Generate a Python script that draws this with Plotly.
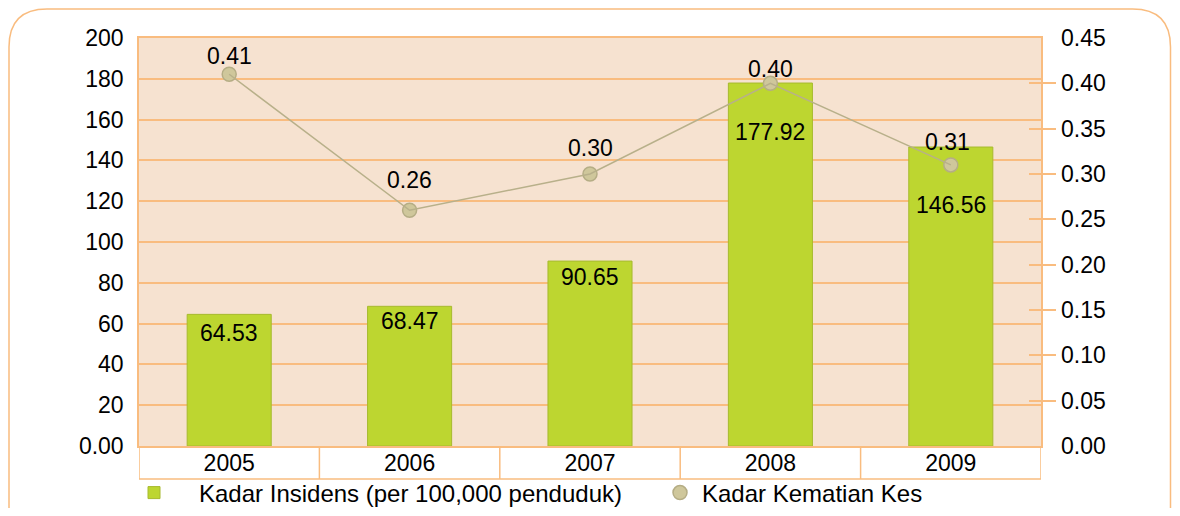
import plotly.graph_objects as go

years = ["2005", "2006", "2007", "2008", "2009"]
incidence = [64.53, 68.47, 90.65, 177.92, 146.56]
death_rate = [0.41, 0.26, 0.30, 0.40, 0.31]
left_ticks = [0, 20, 40, 60, 80, 100, 120, 140, 160, 180, 200]
left_ticktext = ["0.00", "20", "40", "60", "80", "100", "120", "140", "160", "180", "200"]
right_ticks = [0, 0.05, 0.10, 0.15, 0.20, 0.25, 0.30, 0.35, 0.40, 0.45]
right_marks = [0.05, 0.10, 0.15, 0.20, 0.25, 0.30, 0.35, 0.40]
bar_label_drop = [19, 15, 16, 49, 58]   # label centre below bar top, px
line_label_lift = [18, 30, 26, 14, 23]  # label centre above point, px
line_label_xshift = [0, 0, 0, 0, -3]

OFF = 8  # page body margin of the html output
W, H = 1180 - 2 * OFF, 516 - 2 * OFF
L, T = 139 - OFF, 38 - OFF
PW, PH = 902, 408
R, B = W - L - PW, H - T - PH

ORANGE = "#F9BC7F"
PEACH = "#F6E2D0"
FONT = "Arial, Liberation Sans, sans-serif"
FS = 23

def px(x):
    return (x - 139) / PW

def py(y):
    return (446 - y) / PH

fig = go.Figure()
fig.add_trace(go.Bar(
    x=years, y=incidence, name="Kadar Insidens (per 100,000 penduduk)",
    marker=dict(color="#BDD630", line=dict(color="#A7BA2E", width=1)),
    yaxis="y", legend="legend",
))
fig.add_trace(go.Scatter(
    x=years, y=death_rate, name="Kadar Kematian Kes", mode="markers",
    marker=dict(size=14, color="#CFC79B", line=dict(color="#B5AD85", width=1.5)),
    yaxis="y2", legend="legend2",
))
fig.add_trace(go.Scatter(
    x=years, y=death_rate, name="Kadar Kematian Kes", mode="lines",
    line=dict(color="#B8B08A", width=1.5), showlegend=False, yaxis="y3",
))

annotations = []
for i, (v, d) in enumerate(zip(incidence, bar_label_drop)):
    annotations.append(dict(x=i, y=v, xref="x", yref="y", text=f"{v:.2f}",
                            showarrow=False, yanchor="middle", yshift=-d,
                            font=dict(size=FS, color="black", family=FONT)))
for i, (v, d, dx) in enumerate(zip(death_rate, line_label_lift, line_label_xshift)):
    annotations.append(dict(x=i, y=v, xref="x", yref="y2", text=f"{v:.2f}",
                            showarrow=False, yanchor="middle", yshift=d, xshift=dx,
                            font=dict(size=FS, color="black", family=FONT)))

shapes = []
band = -33 / PH
for i in range(len(years) + 1):
    shapes.append(dict(type="line", xref="x", yref="paper", x0=i - 0.5, x1=i - 0.5,
                       y0=0, y1=band, line=dict(color=ORANGE, width=1.5)))
shapes.append(dict(type="line", xref="paper", yref="paper", x0=0, x1=1, y0=band, y1=band,
                   line=dict(color=ORANGE, width=1.5)))

# rounded outer frame
x0, x1, y0, y1, r = 9, 1170.5, 9, 545, 38
path = (f"M {px(x0 + r)},{py(y0)} L {px(x1 - r)},{py(y0)} "
        f"Q {px(x1)},{py(y0)} {px(x1)},{py(y0 + r)} "
        f"L {px(x1)},{py(y1 - r)} Q {px(x1)},{py(y1)} {px(x1 - r)},{py(y1)} "
        f"L {px(x0 + r)},{py(y1)} Q {px(x0)},{py(y1)} {px(x0)},{py(y1 - r)} "
        f"L {px(x0)},{py(y0 + r)} Q {px(x0)},{py(y0)} {px(x0 + r)},{py(y0)} Z")
shapes.append(dict(type="path", xref="paper", yref="paper", path=path,
                   line=dict(color=ORANGE, width=1.5), layer="below"))

fig.update_layout(
    width=W, height=H,
    margin=dict(l=L, r=R, t=T, b=B, pad=0, autoexpand=False),
    paper_bgcolor="white", plot_bgcolor=PEACH,
    font=dict(family=FONT, size=FS, color="black"),
    bargap=0.534,
    showlegend=True,
    legend=dict(orientation="h", x=px(109), xanchor="left", y=py(493), yanchor="middle",
                font=dict(size=24, family=FONT), bgcolor="rgba(0,0,0,0)", itemwidth=80),
    legend2=dict(orientation="h", x=px(658), xanchor="left", y=py(493), yanchor="middle",
                 font=dict(size=24, family=FONT), bgcolor="rgba(0,0,0,0)", itemwidth=34),
    xaxis=dict(type="category", range=[-0.5, 4.5], showgrid=False, ticks="",
               showline=True, mirror=True, linecolor=ORANGE, linewidth=1.5,
               tickfont=dict(size=FS), ticklabelstandoff=-4, automargin=False),
    yaxis=dict(range=[0, 200], tickvals=left_ticks, ticktext=left_ticktext,
               showgrid=True, gridcolor=ORANGE, gridwidth=1.5, zeroline=False,
               showline=True, mirror=True, linecolor=ORANGE, linewidth=1.5,
               ticks="", ticklabelstandoff=9, tickfont=dict(size=FS), automargin=False),
    yaxis2=dict(overlaying="y", side="right", range=[0, 0.45], tickvals=right_ticks,
                ticktext=[f"{v:.2f}" for v in right_ticks], showgrid=False, zeroline=False,
                ticks="inside", ticklen=12, tickcolor=ORANGE, tickwidth=2,
                ticklabelstandoff=19, tickfont=dict(size=FS), showline=False, automargin=False),
    yaxis3=dict(overlaying="y", side="right", range=[0, 0.45], tickvals=right_marks,
                showticklabels=False, showgrid=False, zeroline=False, showline=False,
                ticks="outside", ticklen=14, tickcolor=ORANGE, tickwidth=2, automargin=False),
    shapes=shapes,
    annotations=annotations,
)

fig.write_html("out.html")
